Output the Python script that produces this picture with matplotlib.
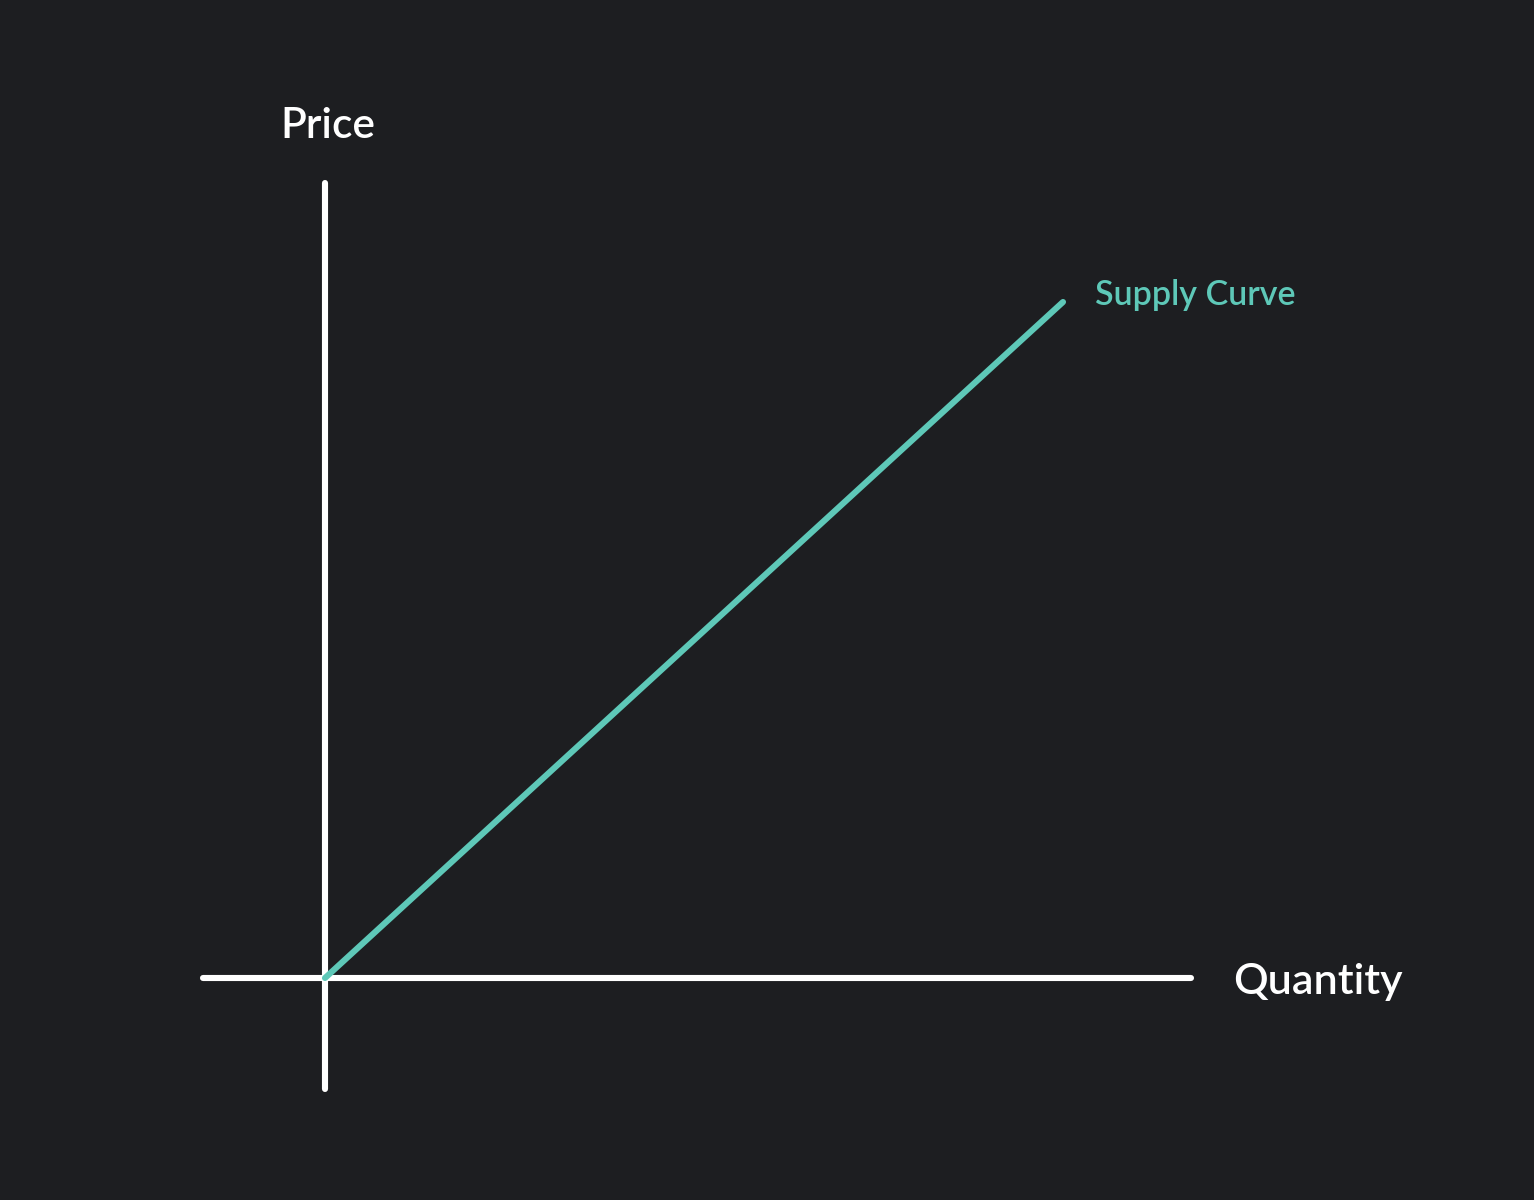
import matplotlib.pyplot as plt
import numpy as np

BG = "#1d1e21"
TEAL = "#5ec8b8"

# axis extents (data units, origin at the intersection)
quantity_axis = [-1.22, 8.66]
price_axis = [-1.11, 7.95]

# supply curve points
supply_q = [0.0, 7.38]
supply_p = [0.0, 6.76]

x_label = "Quantity"
y_label = "Price"
curve_label = "Supply Curve"

plt.rcParams['font.family'] = ['Lato', 'DejaVu Sans']

fig = plt.figure(figsize=(15.34, 12), dpi=100, facecolor=BG)
ax = fig.add_axes([0, 0, 1, 1])
ax.set_facecolor(BG)
ax.set_xlim(-3.25, 12.09)
ax.set_ylim(-2.22, 9.78)
ax.axis("off")

LW = 4.4
ax.plot(quantity_axis, [0, 0], color="white", lw=LW, solid_capstyle="round")
ax.plot([0, 0], price_axis, color="white", lw=LW, solid_capstyle="round")
ax.plot(supply_q, supply_p, color=TEAL, lw=LW, solid_capstyle="round")

ax.text(0.03, 8.52, y_label, color="white", fontsize=30.5, fontweight="semibold",
        ha="center", va="center")
ax.text(9.93, -0.04, x_label, color="white", fontsize=31, fontweight="semibold",
        ha="center", va="center")
ax.text(supply_q[-1] + 0.32, supply_p[-1] + 0.07, curve_label, color=TEAL,
        fontsize=24.5, fontweight="semibold", ha="left", va="center")

fig.savefig("out.png", dpi=100, facecolor=BG)
